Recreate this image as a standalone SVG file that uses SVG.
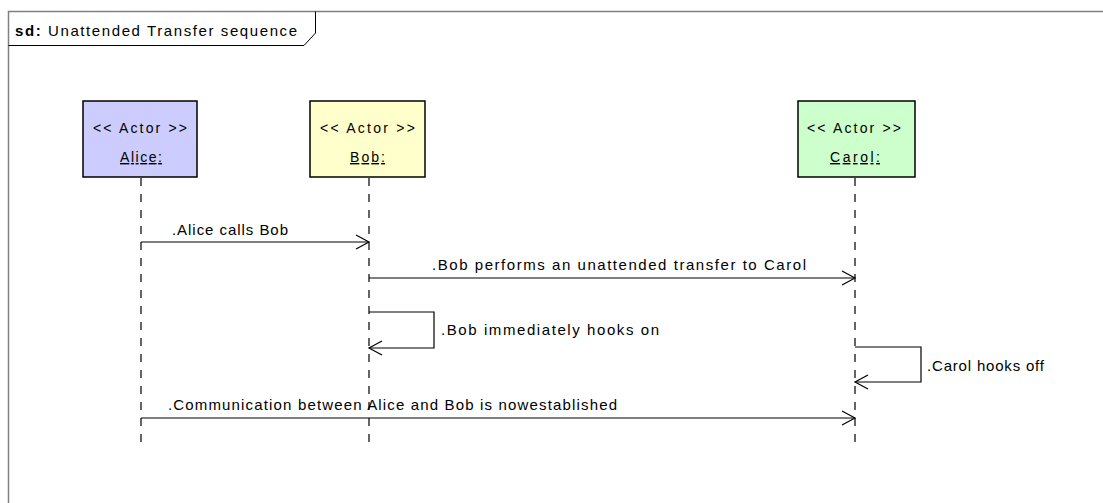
<svg xmlns="http://www.w3.org/2000/svg" width="1103" height="503" viewBox="0 0 1103 503">
<style>
text{font-family:"Liberation Sans",Arial,sans-serif;font-size:15px;fill:#000}
.act{font-size:14px}
.box{stroke:#000;stroke-width:1.5}
.life{stroke:#000;stroke-width:1.2;stroke-dasharray:8,8;fill:none}
.msg{stroke:#000;stroke-width:1.2;fill:none}
</style>
<defs>
<marker id="open" markerWidth="16" markerHeight="16" refX="14" refY="8" orient="auto" markerUnits="userSpaceOnUse">
<path d="M1,1 L14,8 L1,15" fill="none" stroke="#000" stroke-width="1.2"/>
</marker>
</defs>
<rect width="1103" height="503" fill="#fff"/>
<g id="frame">
<path d="M8.5,503 V11.5 H1103" fill="none" stroke="#808080" stroke-width="1.5"/>
<path d="M8.5,45.5 H304 L315.5,33 V11.5" fill="none" stroke="#000" stroke-width="1"/>
<text x="15" y="36" textLength="282" lengthAdjust="spacing"><tspan font-weight="bold">sd:</tspan> Unattended Transfer sequence</text>
</g>
<g id="alice">
<rect class="box" x="83" y="101" width="114" height="76" fill="#ccccff"/>
<text class="act" x="93" y="133" textLength="94" lengthAdjust="spacing">&lt;&lt; Actor &gt;&gt;</text>
<text class="act" x="120" y="162" textLength="42" lengthAdjust="spacing" text-decoration="underline">Alice:</text>
<line class="life" x1="141" y1="178" x2="141" y2="444"/>
</g>
<g id="bob">
<rect class="box" x="310" y="101" width="115" height="76" fill="#ffffcc"/>
<text class="act" x="320" y="133" textLength="95" lengthAdjust="spacing">&lt;&lt; Actor &gt;&gt;</text>
<text class="act" x="350" y="162" textLength="35" lengthAdjust="spacing" text-decoration="underline">Bob:</text>
<line class="life" x1="369" y1="178" x2="369" y2="444"/>
</g>
<g id="carol">
<rect class="box" x="798" y="101" width="117" height="76" fill="#ccffcc"/>
<text class="act" x="807" y="133" textLength="94" lengthAdjust="spacing">&lt;&lt; Actor &gt;&gt;</text>
<text class="act" x="830" y="162" textLength="50" lengthAdjust="spacing" text-decoration="underline">Carol:</text>
<line class="life" x1="855" y1="178" x2="855" y2="444"/>
</g>
<g id="connectors">
<line class="msg" x1="141" y1="242" x2="369" y2="242" marker-end="url(#open)"/>
<text x="172" y="235" textLength="116" lengthAdjust="spacing">.Alice calls Bob</text>
<line class="msg" x1="369" y1="278" x2="855" y2="278" marker-end="url(#open)"/>
<text x="432" y="270" textLength="374" lengthAdjust="spacing">.Bob performs an unattended transfer to Carol</text>
<path class="msg" d="M369,312 H434 V348 H369" marker-end="url(#open)"/>
<text x="441" y="335" textLength="218" lengthAdjust="spacing">.Bob immediately hooks on</text>
<path class="msg" d="M855,347 H921 V382 H855" marker-end="url(#open)"/>
<text x="927" y="371" textLength="117" lengthAdjust="spacing">.Carol hooks off</text>
<line class="msg" x1="141" y1="418" x2="855" y2="418" marker-end="url(#open)"/>
<text x="168" y="410" textLength="449" lengthAdjust="spacing">.Communication between Alice and Bob is nowestablished</text>
</g>
</svg>
